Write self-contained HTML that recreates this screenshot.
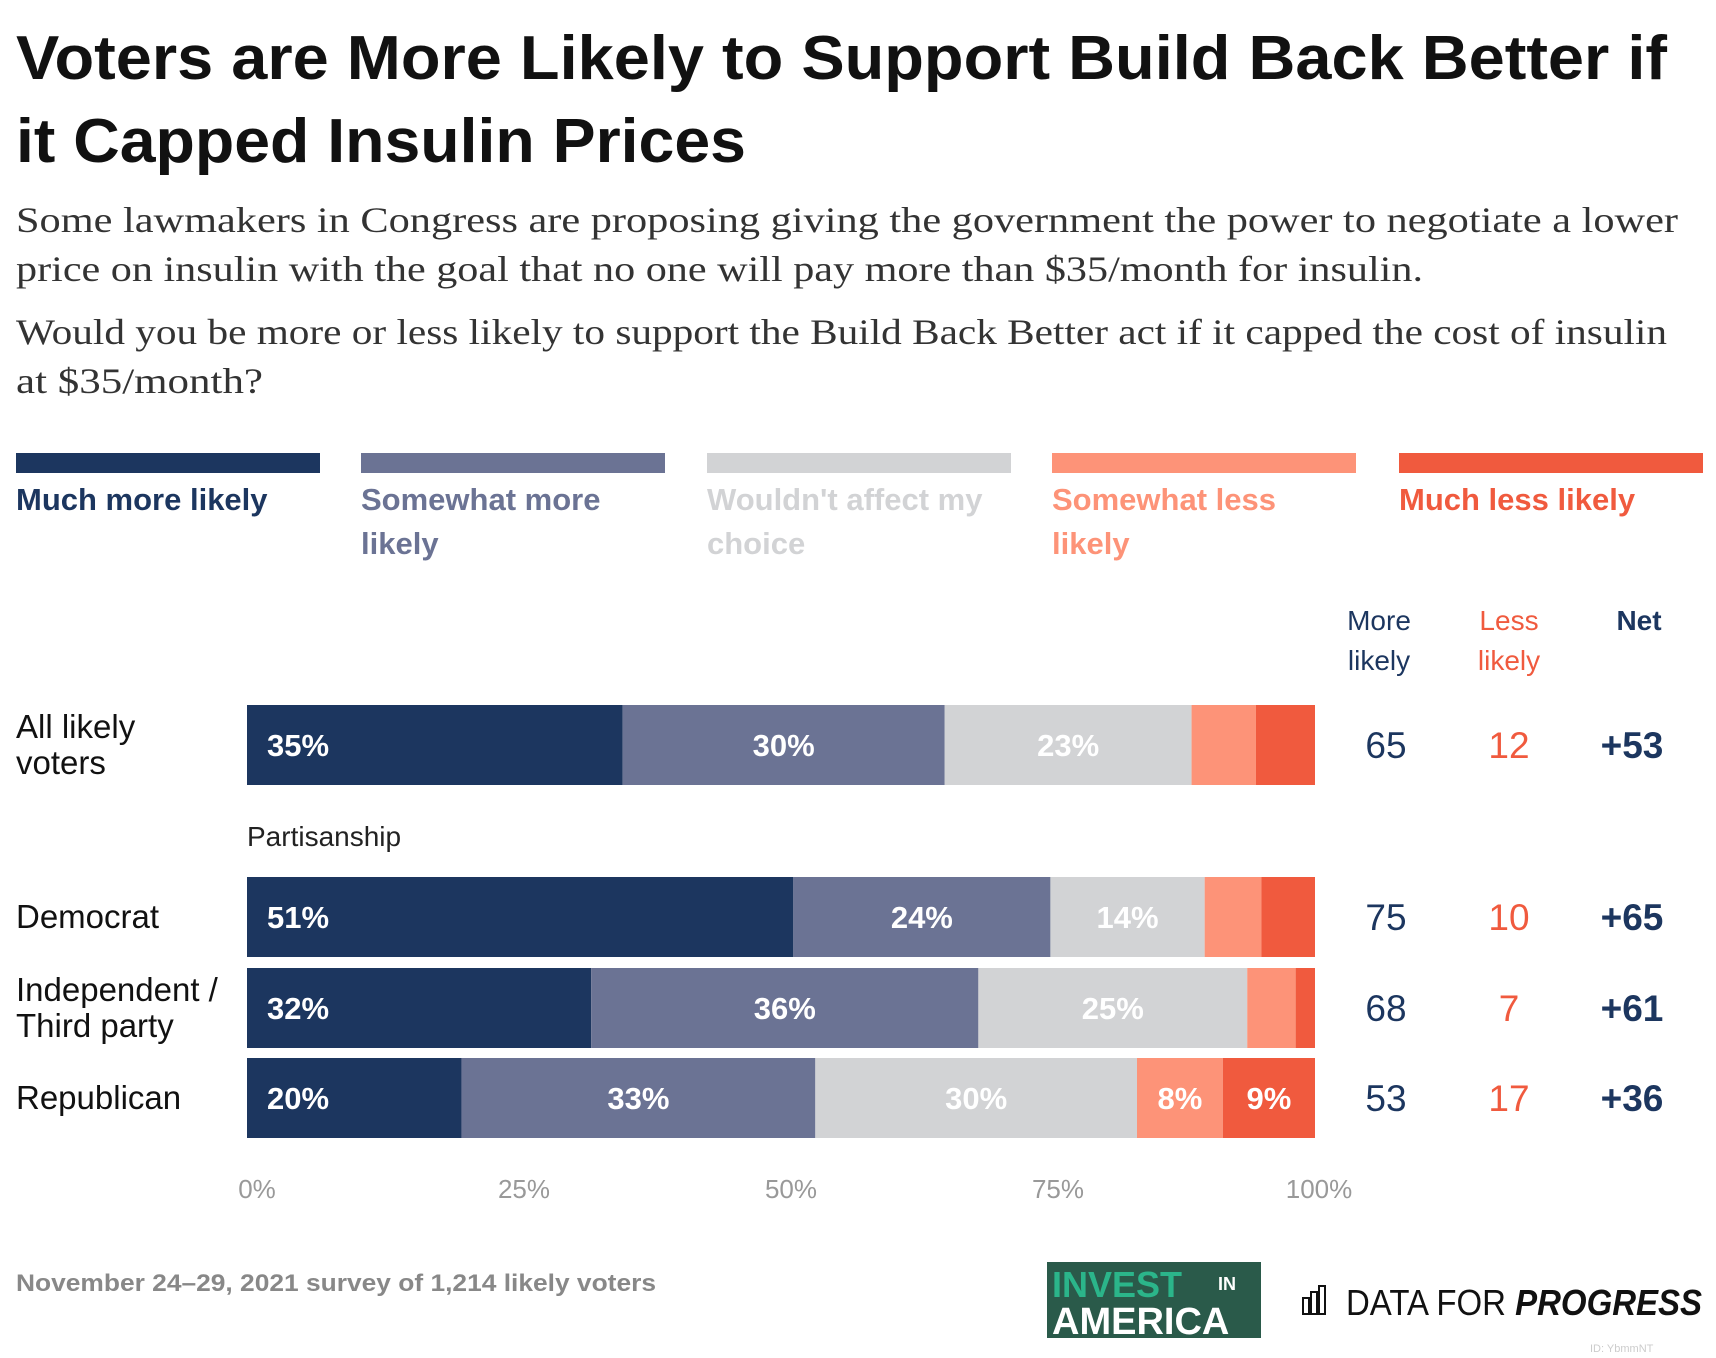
<!DOCTYPE html>
<html><head><meta charset="utf-8">
<style>
body{margin:0;background:#fff;width:1716px;height:1358px;overflow:hidden;font-family:"Liberation Sans",sans-serif;}
svg{display:block}
</style></head><body>
<svg id="chart" width="1716" height="1358">
<text x="16" y="79" font-size="62" font-weight="bold" fill="#111" textLength="1651" lengthAdjust="spacingAndGlyphs">Voters are More Likely to Support Build Back Better if</text>
<text x="16" y="162" font-size="62" font-weight="bold" fill="#111" textLength="730" lengthAdjust="spacingAndGlyphs">it Capped Insulin Prices</text>
<g font-family="'Liberation Serif',serif" font-size="36" fill="#333">
<text x="16" y="232" textLength="1662" lengthAdjust="spacingAndGlyphs">Some lawmakers in Congress are proposing giving the government the power to negotiate a lower</text>
<text x="16" y="281" textLength="1407" lengthAdjust="spacingAndGlyphs">price on insulin with the goal that no one will pay more than $35/month for insulin.</text>
<text x="16" y="344" textLength="1651" lengthAdjust="spacingAndGlyphs">Would you be more or less likely to support the Build Back Better act if it capped the cost of insulin</text>
<text x="16" y="393" textLength="247" lengthAdjust="spacingAndGlyphs">at $35/month?</text>
</g>
<g id="legend"></g>
<g font-size="28" text-anchor="middle">
<text x="1379" y="630" fill="#1c365f">More</text><text x="1379" y="670" fill="#1c365f">likely</text>
<text x="1509" y="630" fill="#f05a3e">Less</text><text x="1509" y="670" fill="#f05a3e">likely</text>
<text x="1639" y="630" fill="#1c365f" font-weight="bold">Net</text>
</g>
<text x="247" y="846" font-size="28" fill="#222">Partisanship</text>
<g id="bars"></g>
<g id="axis"></g>
<text x="16" y="1291" font-size="24" font-weight="bold" fill="#888" textLength="640" lengthAdjust="spacingAndGlyphs">November 24–29, 2021 survey of 1,214 likely voters</text>
<g>
<rect x="1047" y="1262" width="214" height="76" fill="#2a5a4a"/>
<text x="1052" y="1297" font-size="36" font-weight="bold" fill="#2bb58a">INVEST</text>
<text x="1218" y="1290" font-size="18" font-weight="bold" fill="#fff">IN</text>
<text x="1052" y="1334" font-size="38" font-weight="bold" fill="#fff">AMERICA</text>
</g>
<g>
<rect x="1303" y="1298" width="6" height="16" fill="none" stroke="#111" stroke-width="2"/>
<rect x="1311" y="1292" width="6" height="22" fill="none" stroke="#111" stroke-width="2"/>
<rect x="1319" y="1286" width="6" height="28" fill="none" stroke="#111" stroke-width="2"/>
<text x="1346" y="1315" font-size="36" fill="#111" textLength="356" lengthAdjust="spacingAndGlyphs">DATA FOR <tspan font-weight="bold" font-style="italic">PROGRESS</tspan></text>
</g>
<text x="1590" y="1352" font-size="11" fill="#ccc">ID: YbmmNT</text>
</svg>
<script>
const categories=["All likely voters","Democrat","Independent / Third party","Republican"];
const muchMore=[35,51,32,20];
const someMore=[30,24,36,33];
const noEffect=[23,14.4,25,30];
const someLess=[6,5.3,4.5,8];
const muchLess=[5.5,5,1.8,8.6];
const moreLikely=[65,75,68,53];
const lessLikely=[12,10,7,17];
const netValues=["+53","+65","+61","+36"];
const ticks=[0,25,50,75,100];
const seriesNames=["Much more likely","Somewhat more likely","Wouldn't affect my choice","Somewhat less likely","Much less likely"];
const NS="http://www.w3.org/2000/svg";
const colors=["#1c365f","#6b7394","#d2d3d5","#fd9378","#f05a3e"];
const X0=247,X1=1315;
const x=v=>X0+(X1-X0)*v/100;
const rowY=[705,877,968,1058],BH=80;
function mk(t,a,p){const e=document.createElementNS(NS,t);for(const k in a)e.setAttribute(k,a[k]);p.appendChild(e);return e;}
const lg=document.getElementById('legend');
const legLines=[["Much more likely"],["Somewhat more","likely"],["Wouldn't affect my","choice"],["Somewhat less","likely"],["Much less likely"]];
const legX=[16,361,707,1052,1399];
seriesNames.forEach((n,i)=>{
 const g=mk('g',{},lg);
 
 
 mk('rect',{x:legX[i],y:453,width:304,height:20,fill:colors[i]},g);
 legLines[i].forEach((l,j)=>{const t=mk('text',{x:legX[i],y:510+j*44,'font-size':31,'font-weight':'bold',fill:colors[i]},g);t.textContent=l;});
});
const bars=document.getElementById('bars');
const rowLabels=[["All likely","voters"],["Democrat"],["Independent /","Third party"],["Republican"]];
categories.forEach((c,r)=>{
 const vals=[muchMore[r],someMore[r],noEffect[r],someLess[r],muchLess[r]];
 const tot=vals.reduce((a,b)=>a+b,0);
 const g=mk('g',{},bars);
 
 
 const y=rowY[r];
 const lines=rowLabels[r];
 lines.forEach((l,j)=>{const t=mk('text',{x:16,y:y+BH/2+11+(j-(lines.length-1)/2)*36,'font-size':33,fill:'#111'},g);t.textContent=l;});
 let acc=0;
 vals.forEach((v,i)=>{
  const a=x(acc/tot*100),b=x((acc+v)/tot*100);
  const rc=mk('rect',{x:a,y:y,width:b-a,height:BH,fill:colors[i]},g);
  
  
  if(v>=7){
   const t=mk('text',{x:i==0?a+20:(a+b)/2,y:y+BH/2+11,'font-size':31,'font-weight':'bold',fill:'#fff','text-anchor':i==0?'start':'middle'},g);
   t.textContent=Math.round(v)+'%';
  }
  acc+=v;
 });
 const cy=y+BH/2+13;
 let t=mk('text',{x:1386,y:cy,'font-size':37,fill:'#1c365f','text-anchor':'middle'},g);t.textContent=moreLikely[r];
 t=mk('text',{x:1509,y:cy,'font-size':37,fill:'#f05a3e','text-anchor':'middle'},g);t.textContent=lessLikely[r];
 t=mk('text',{x:1632,y:cy,'font-size':37,'font-weight':'bold',fill:'#1c365f','text-anchor':'middle'},g);t.textContent=netValues[r];
});
const ax=document.getElementById('axis');
ticks.forEach(v=>{
 const t=mk('text',{x:x(v)+(v==100?4:10),y:1198,'font-size':26,fill:'#999','text-anchor':'middle'},ax);
 
 
 t.textContent=v+'%';
});
</script>
</body></html>
